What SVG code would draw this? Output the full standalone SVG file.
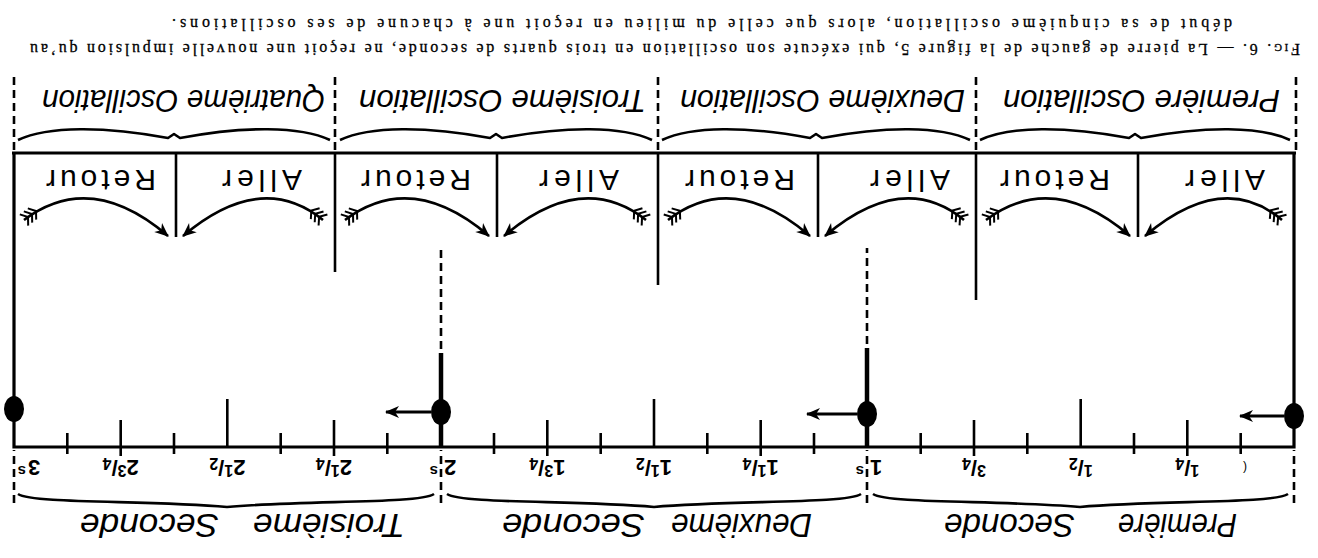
<svg xmlns="http://www.w3.org/2000/svg" width="1318" height="558" viewBox="0 0 1318 558">
<defs>
<style>
.frame{stroke:#000;fill:none;stroke-width:3.2;stroke-linejoin:miter}
.div{stroke:#000;stroke-width:2.6}
.tick{stroke:#000;stroke-width:2.6}
.dash{stroke:#000;stroke-width:2.6;stroke-dasharray:8 5;fill:none}
.pend{stroke:#000;stroke-width:4.5}
.brace{stroke:#000;stroke-width:2.6;fill:none;stroke-linejoin:round}
.dot{fill:#000}
.lbl{font-family:"Liberation Sans",Arial,sans-serif;font-style:italic;fill:#000}
.sec{font-size:34px}
.osc{font-size:32px}
.ar{font-family:"Liberation Sans",Arial,sans-serif;font-size:30px;fill:#000}
.num{font-family:"Liberation Sans",Arial,sans-serif;font-weight:bold;font-size:22px;fill:#000}
.fr{font-size:16px}
.sup{font-size:15px}
.cap{font-family:"Liberation Serif","Times New Roman",serif;font-size:16px;fill:#000;stroke:#000;stroke-width:0.3}
.sc{font-variant:small-caps}
.arc{stroke:#000;stroke-width:2.6;fill:none;marker-end:url(#head);marker-start:url(#fletch)}
.push{stroke:#000;stroke-width:2.8;fill:none;marker-end:url(#head)}
</style>
<marker id="head" markerUnits="userSpaceOnUse" markerWidth="16" markerHeight="14" viewBox="-14 -7 16 14" refX="0" refY="0" orient="auto">
<path d="M1,0 L-13,-6 L-9,0 L-13,6 Z" fill="#000"/>
</marker>
<marker id="fletch" markerUnits="userSpaceOnUse" markerWidth="22" markerHeight="18" viewBox="-2 -9 22 18" refX="0" refY="0" orient="auto">
<path d="M0,-7 L5,0 L0,7 M5,-7 L10,0 L5,7 M10,-7 L15,0 L10,7" stroke="#000" stroke-width="2" fill="none"/>
</marker>
</defs>
<rect width="1318" height="558" fill="#fff"/>
<g transform="rotate(180 659 279)">

<g id="seconds-labels">
<text class="lbl sec" x="81" y="44" textLength="119" lengthAdjust="spacingAndGlyphs">Première</text>
<text class="lbl sec" x="243" y="44" textLength="131" lengthAdjust="spacingAndGlyphs">Seconde</text>
<text class="lbl sec" x="506" y="44" textLength="141" lengthAdjust="spacingAndGlyphs">Deuxième</text>
<text class="lbl sec" x="673" y="44" textLength="143" lengthAdjust="spacingAndGlyphs">Seconde</text>
<text class="lbl sec" x="913" y="44" textLength="152" lengthAdjust="spacingAndGlyphs">Troisième</text>
<text class="lbl sec" x="1099" y="44" textLength="139" lengthAdjust="spacingAndGlyphs">Seconde</text>
<path class="brace" d="M30,64 C45,54 158,58 238,51 C318,58 430,54 445,64"/>
<path class="brace" d="M457,64 C472,54 584,58 664,51 C744,58 856,54 871,64"/>
<path class="brace" d="M884,64 C899,54 1011,58 1091,51 C1171,58 1285,54 1300,64"/>
</g>

<g id="time-axis">
<g class="dash">
<line x1="24" y1="55" x2="24" y2="108"/>
<line x1="451" y1="55" x2="451" y2="108"/>
<line x1="877" y1="55" x2="877" y2="108"/>
<line x1="1304" y1="55" x2="1304" y2="108"/>
</g>
<g class="tick">
<line x1="77.3" y1="104" x2="77.3" y2="125"/>
<line x1="130.7" y1="102" x2="130.7" y2="138"/>
<line x1="184" y1="104" x2="184" y2="125"/>
<line x1="237.3" y1="111" x2="237.3" y2="159"/>
<line x1="290.7" y1="104" x2="290.7" y2="125"/>
<line x1="344" y1="102" x2="344" y2="138"/>
<line x1="397.3" y1="104" x2="397.3" y2="125"/>
<line x1="504" y1="104" x2="504" y2="125"/>
<line x1="557.3" y1="102" x2="557.3" y2="138"/>
<line x1="610.7" y1="104" x2="610.7" y2="125"/>
<line x1="664" y1="111" x2="664" y2="159"/>
<line x1="717.3" y1="104" x2="717.3" y2="125"/>
<line x1="770.7" y1="102" x2="770.7" y2="138"/>
<line x1="824" y1="104" x2="824" y2="125"/>
<line x1="930.7" y1="104" x2="930.7" y2="125"/>
<line x1="984" y1="102" x2="984" y2="138"/>
<line x1="1037.3" y1="104" x2="1037.3" y2="125"/>
<line x1="1090.7" y1="111" x2="1090.7" y2="159"/>
<line x1="1144" y1="104" x2="1144" y2="125"/>
<line x1="1197.3" y1="102" x2="1197.3" y2="138"/>
<line x1="1250.7" y1="104" x2="1250.7" y2="125"/>
</g>
<g class="num" text-anchor="middle">
<text x="73" y="94" font-size="12" font-weight="normal">(</text>
<text x="130.7" y="98"><tspan class="fr" dy="-5">1</tspan><tspan dy="5">/</tspan><tspan class="fr" dy="2">4</tspan></text>
<text x="237.3" y="98"><tspan class="fr" dy="-5">1</tspan><tspan dy="5">/</tspan><tspan class="fr" dy="2">2</tspan></text>
<text x="344" y="98"><tspan class="fr" dy="-5">3</tspan><tspan dy="5">/</tspan><tspan class="fr" dy="2">4</tspan></text>
<text x="448" y="98" text-anchor="end">1</text>
<text x="454" y="92" text-anchor="start" class="sup">s</text>
<text x="557.3" y="98">1<tspan class="fr" dy="-5">1</tspan><tspan dy="5">/</tspan><tspan class="fr" dy="2">4</tspan></text>
<text x="664" y="98">1<tspan class="fr" dy="-5">1</tspan><tspan dy="5">/</tspan><tspan class="fr" dy="2">2</tspan></text>
<text x="770.7" y="98">1<tspan class="fr" dy="-5">3</tspan><tspan dy="5">/</tspan><tspan class="fr" dy="2">4</tspan></text>
<text x="874" y="98" text-anchor="end">2</text>
<text x="880" y="92" text-anchor="start" class="sup">s</text>
<text x="984" y="98">2<tspan class="fr" dy="-5">1</tspan><tspan dy="5">/</tspan><tspan class="fr" dy="2">4</tspan></text>
<text x="1090.7" y="98">2<tspan class="fr" dy="-5">1</tspan><tspan dy="5">/</tspan><tspan class="fr" dy="2">2</tspan></text>
<text x="1197.3" y="98">2<tspan class="fr" dy="-5">3</tspan><tspan dy="5">/</tspan><tspan class="fr" dy="2">4</tspan></text>
<text x="1290" y="98" text-anchor="end">3</text>
<text x="1292" y="92" text-anchor="start" class="sup">s</text>
</g>
</g>

<g id="frame">
<path class="frame" d="M24,405 L24,111 L1304,111 L1304,405"/>
<line class="frame" x1="22" y1="405" x2="1306" y2="405"/>
</g>

<g id="pendulum-0">
<ellipse class="dot" cx="24" cy="142" rx="10" ry="13"/>
</g>
<g id="pendulum-1s">
<line class="pend" x1="451" y1="111" x2="451" y2="210"/>
<line class="dash" x1="451" y1="214" x2="451" y2="310"/>
<ellipse class="dot" cx="451" cy="144" rx="10" ry="13"/>
</g>
<g id="pendulum-2s">
<line class="pend" x1="877" y1="111" x2="877" y2="205"/>
<line class="dash" x1="877" y1="209" x2="877" y2="310"/>
<ellipse class="dot" cx="877" cy="146" rx="10" ry="13"/>
</g>
<g id="pendulum-3s">
<ellipse class="dot" cx="1304" cy="149" rx="10" ry="13"/>
</g>

<g id="box-dividers">
<line class="div" x1="180" y1="321" x2="180" y2="405"/>
<line class="div" x1="342" y1="258" x2="342" y2="405"/>
<line class="div" x1="500" y1="321" x2="500" y2="405"/>
<line class="div" x1="660" y1="273" x2="660" y2="405"/>
<line class="div" x1="821" y1="321" x2="821" y2="405"/>
<line class="div" x1="983" y1="286" x2="983" y2="405"/>
<line class="div" x1="1142" y1="321" x2="1142" y2="405"/>
<g class="dash">
<line x1="22" y1="408" x2="22" y2="482"/>
<line x1="342" y1="408" x2="342" y2="482"/>
<line x1="660" y1="408" x2="660" y2="482"/>
<line x1="983" y1="408" x2="983" y2="482"/>
<line x1="1304" y1="408" x2="1304" y2="482"/>
</g>
</g>

<g id="oscillation-1">
<text class="ar" x="93" y="388" text-anchor="middle" textLength="80" lengthAdjust="spacing">Aller</text>
<text class="ar" x="263" y="388" text-anchor="middle" textLength="110" lengthAdjust="spacing">Retour</text>
<path class="brace" d="M28,418 C58,432 113,432 177,420 L183,424 L189,420 C253,432 308,432 338,418"/>
<text class="lbl osc" x="38" y="468" textLength="277" lengthAdjust="spacingAndGlyphs">Première Oscillation</text>
</g>
<g id="oscillation-2">
<text class="ar" x="408" y="388" text-anchor="middle" textLength="80" lengthAdjust="spacing">Aller</text>
<text class="ar" x="578" y="388" text-anchor="middle" textLength="110" lengthAdjust="spacing">Retour</text>
<path class="brace" d="M348,418 C378,432 432,432 496,420 L502,424 L508,420 C572,432 626,432 656,418"/>
<text class="lbl osc" x="353" y="468" textLength="285" lengthAdjust="spacingAndGlyphs">Deuxième Oscillation</text>
</g>
<g id="oscillation-3">
<text class="ar" x="739" y="388" text-anchor="middle" textLength="80" lengthAdjust="spacing">Aller</text>
<text class="ar" x="902" y="388" text-anchor="middle" textLength="110" lengthAdjust="spacing">Retour</text>
<path class="brace" d="M666,418 C696,432 752,432 816,420 L822,424 L828,420 C892,432 948,432 978,418"/>
<text class="lbl osc" x="672" y="468" textLength="287" lengthAdjust="spacingAndGlyphs">Troisième Oscillation</text>
</g>
<g id="oscillation-4">
<text class="ar" x="1056" y="388" text-anchor="middle" textLength="80" lengthAdjust="spacing">Aller</text>
<text class="ar" x="1217" y="388" text-anchor="middle" textLength="110" lengthAdjust="spacing">Retour</text>
<path class="brace" d="M988,418 C1018,432 1074,432 1138,420 L1144,424 L1150,420 C1214,432 1270,432 1300,418"/>
<text class="lbl osc" x="993" y="468" textLength="283" lengthAdjust="spacingAndGlyphs">Quatrième Oscillation</text>
</g>

<g id="connectors">
<path class="arc" d="M36,338 Q95,388 173,322"/>
<path class="arc" d="M332,338 Q265,388 188,322"/>
<path class="arc" d="M354,338 Q415,388 493,322"/>
<path class="arc" d="M650,338 Q585,388 508,322"/>
<path class="arc" d="M672,338 Q736,388 814,322"/>
<path class="arc" d="M973,338 Q906,388 829,322"/>
<path class="arc" d="M995,338 Q1057,388 1135,322"/>
<path class="arc" d="M1294,338 Q1227,388 1150,322"/>
<line class="push" x1="34" y1="142" x2="78" y2="142"/>
<line class="push" x1="461" y1="144" x2="511" y2="144"/>
<line class="push" x1="887" y1="146" x2="932" y2="146"/>
</g>

<g id="caption">
<text class="cap" x="18" y="514" textLength="1270" lengthAdjust="spacing"><tspan class="sc">Fig.</tspan> 6. — La pierre de gauche de la figure 5, qui exécute son oscillation en trois quarts de seconde, ne reçoit une nouvelle impulsion qu’au</text>
<text class="cap" x="86" y="539" textLength="1060" lengthAdjust="spacing">début de sa cinquième oscillation, alors que celle du milieu en reçoit une à chacune de ses oscillations.</text>
</g>
</g>
</svg>
